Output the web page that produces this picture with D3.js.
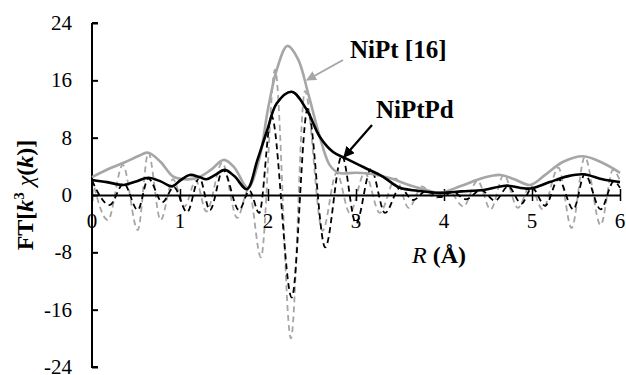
<!DOCTYPE html>
<html>
<head>
<meta charset="utf-8">
<script src="https://cdn.jsdelivr.net/npm/d3@7"></script>
<style>
  body { margin: 0; background: #fff; }
  svg { display: block; }
</style>
</head>
<body>
<div id="chart"></div>
<script>
// axis ticks
const xTicks = [0, 1, 2, 3, 4, 5, 6];
const yTicks = [-24, -16, -8, 0, 8, 16, 24];

// |FT| of NiPt [16] (grey solid), pairs of [R, value]
const niptMag = [[0,2.5],[0.18,3.6],[0.38,4.6],[0.52,5.4],[0.64,5.9],[0.78,4.6],[0.92,2.6],[1.05,2.2],[1.2,2.4],
  [1.35,3.5],[1.5,4.9],[1.62,3.8],[1.77,1.0],[1.9,5],[2.0,12],[2.1,17.5],[2.22,20.8],[2.34,19],[2.46,14],
  [2.58,8.5],[2.7,4.2],[2.8,3.1],[3.0,3.1],[3.2,2.9],[3.4,2.3],[3.6,1.4],[3.8,0.7],[3.95,0.3],[4.2,1.3],
  [4.45,2.4],[4.64,2.8],[4.8,2.2],[4.98,1.4],[5.15,2.8],[5.35,4.6],[5.58,5.4],[5.8,4.5],[6,3.1]];

// |FT| of NiPtPd (black solid)
const niptpdMag = [[0,2.1],[0.17,1.8],[0.36,1.4],[0.5,1.9],[0.64,2.4],[0.78,1.9],[0.91,1.2],[1.0,2.0],[1.11,2.8],
  [1.22,2.5],[1.3,2.2],[1.4,2.8],[1.51,3.5],[1.62,2.6],[1.76,0.8],[1.88,4.9],[1.99,9],[2.1,12.8],[2.27,14.4],
  [2.44,11.9],[2.59,8.1],[2.74,6],[2.9,5.0],[3.1,3.8],[3.3,2.6],[3.5,1.0],[3.7,0.6],[3.95,0.3],[4.2,0.5],
  [4.45,0.7],[4.7,1.3],[4.98,0.9],[5.2,1.8],[5.4,2.6],[5.58,2.9],[5.8,2.2],[6,1.8]];

// Im part of NiPt [16] (grey dashed), extrema
const niptIm = [[0,2.4],[0.18,-3.5],[0.35,4.2],[0.52,-4.9],[0.64,5.9],[0.78,-3.5],[0.92,2.2],[1.05,-1.6],[1.18,2.0],
  [1.3,-2.3],[1.48,4.5],[1.65,-3.2],[1.78,0.8],[1.92,-8.7],[2.08,17.5],[2.26,-20],[2.42,14.5],[2.62,-5],
  [2.78,3.1],[2.93,-2.5],[3.1,3.1],[3.27,-2.5],[3.45,2.3],[3.6,-1.8],[3.75,1.2],[3.9,-0.4],[4.05,0.6],
  [4.22,-1.6],[4.38,2.0],[4.53,-2.0],[4.68,2.8],[4.84,-1.8],[4.98,1.3],[5.12,-2.0],[5.3,3.8],[5.45,-4.6],
  [5.6,5.3],[5.78,-4.2],[5.92,3.5],[6,2.0]];

// Im part of NiPtPd (black dashed), extrema
const niptpdIm = [[0,2.0],[0.2,-1.4],[0.36,1.6],[0.52,-2.1],[0.64,2.3],[0.8,-1.0],[0.93,1.1],[1.08,-2.4],[1.22,2.4],
  [1.34,-2.1],[1.49,3.5],[1.67,-2.1],[1.79,0.6],[1.9,-2.5],[2.04,11],[2.27,-14.3],[2.45,12],[2.65,-7.3],
  [2.84,5.5],[3.0,-4],[3.17,3.6],[3.33,-2.5],[3.5,1.0],[3.65,-0.7],[3.8,0.6],[3.95,-0.3],[4.1,0.4],
  [4.25,-0.6],[4.42,0.7],[4.58,-0.8],[4.73,1.2],[4.88,-1.2],[5.0,1.0],[5.15,-1.5],[5.3,2.2],[5.47,-2.0],
  [5.6,2.9],[5.78,-2.0],[5.93,1.9],[6,1.0]];

const width = 626, height = 375;
const grey = '#a6a6a6';
const serif = "'Liberation Serif', serif";

const svg = d3.select('#chart').append('svg')
  .attr('width', width)
  .attr('height', height);

const x = d3.scaleLinear().domain([0, 6]).range([92, 620]);
const y = d3.scaleLinear().domain([-24, 24]).range([367, 23]);

const line = d3.line()
  .x(d => x(d[0]))
  .y(d => y(d[1]))
  .curve(d3.curveMonotoneX);

// dashed imaginary parts first, so solid curves lie on top
svg.append('path').datum(niptIm)
  .attr('d', line).attr('fill', 'none')
  .attr('stroke', grey).attr('stroke-width', 1.8).attr('stroke-dasharray', '6,4');
svg.append('path').datum(niptpdIm)
  .attr('d', line).attr('fill', 'none')
  .attr('stroke', '#000').attr('stroke-width', 1.8).attr('stroke-dasharray', '6,4');

// y axis (ticks pointing right)
const yAxis = d3.axisRight(y).tickValues(yTicks).tickSize(6).tickFormat('');
const gy = svg.append('g').attr('transform', `translate(${x(0)},0)`).call(yAxis);
gy.select('.domain').attr('d', `M0,${y(24)}H6M0,${y(24)}V${y(-24)}H6`).attr('stroke-width', 2);
gy.selectAll('.tick line').attr('stroke-width', 2);

svg.selectAll('.ylab').data(yTicks).enter().append('text')
  .attr('class', 'ylab')
  .attr('x', 72).attr('y', d => y(d) + 7)
  .attr('text-anchor', 'end')
  .style('font-family', serif)
  .attr('font-size', 21)
  .text(d => d);

// x axis through zero, ticks crossing the line
const xAxis = d3.axisBottom(x).tickValues(xTicks).tickSizeInner(6).tickSizeOuter(0).tickFormat('');
const gx = svg.append('g').attr('transform', `translate(0,${y(0)})`).call(xAxis);
gx.select('.domain').attr('stroke-width', 2);
gx.selectAll('.tick line').attr('y1', -6).attr('y2', 6).attr('stroke-width', 1.5);

svg.selectAll('.xlab').data(xTicks).enter().append('text')
  .attr('class', 'xlab')
  .attr('x', d => x(d)).attr('y', y(0) + 33)
  .attr('text-anchor', 'middle')
  .style('font-family', serif)
  .attr('font-size', 21)
  .text(d => d);

// magnitude curves
svg.append('path').datum(niptMag)
  .attr('d', line.curve(d3.curveCatmullRom)).attr('fill', 'none')
  .attr('stroke', grey).attr('stroke-width', 2.6);
svg.append('path').datum(niptpdMag)
  .attr('d', line.curve(d3.curveCatmullRom)).attr('fill', 'none')
  .attr('stroke', '#000').attr('stroke-width', 2.6);

// axis titles
const xt = svg.append('text')
  .attr('x', 439).attr('y', 263)
  .attr('text-anchor', 'middle')
  .style('font-family', serif)
  .attr('font-size', 24).attr('font-weight', 'bold');
xt.append('tspan').attr('font-style', 'italic').attr('font-weight', 'normal').text('R');
xt.append('tspan').text(' (Å)');

const yt = svg.append('text')
  .attr('transform', 'translate(33,195) rotate(-90)')
  .attr('text-anchor', 'middle')
  .style('font-family', serif)
  .attr('font-size', 24).attr('font-weight', 'bold');
yt.append('tspan').text('FT[');
yt.append('tspan').attr('font-style', 'italic').text('k');
yt.append('tspan').attr('font-size', 15).attr('dy', -9).text('3');
yt.append('tspan').attr('dy', 9).text(' ');
yt.append('tspan').attr('font-style', 'italic').attr('font-weight', 'normal').text('χ');
yt.append('tspan').text('(');
yt.append('tspan').attr('font-style', 'italic').text('k');
yt.append('tspan').text(')]');

// annotations with arrows
const defs = svg.append('defs');
[['arrGrey', grey], ['arrBlack', '#000']].forEach(([id, c]) => {
  defs.append('marker').attr('id', id)
    .attr('viewBox', '0 0 10 10').attr('refX', 9).attr('refY', 5)
    .attr('markerWidth', 5).attr('markerHeight', 5)
    .attr('markerUnits', 'strokeWidth')
    .attr('orient', 'auto')
    .append('path').attr('d', 'M0,0L10,5L0,10z').attr('fill', c);
});

svg.append('text').attr('x', 350).attr('y', 58)
  .style('font-family', serif)
  .attr('font-size', 25).attr('font-weight', 'bold').text('NiPt [16]');
svg.append('line').attr('x1', 343).attr('y1', 60).attr('x2', 307).attr('y2', 80)
  .attr('stroke', grey).attr('stroke-width', 2).attr('marker-end', 'url(#arrGrey)');

svg.append('text').attr('x', 376).attr('y', 118)
  .style('font-family', serif)
  .attr('font-size', 25).attr('font-weight', 'bold').text('NiPtPd');
svg.append('line').attr('x1', 372).attr('y1', 125).attr('x2', 344).attr('y2', 157)
  .attr('stroke', '#000').attr('stroke-width', 2.2).attr('marker-end', 'url(#arrBlack)');
</script>
</body>
</html>
